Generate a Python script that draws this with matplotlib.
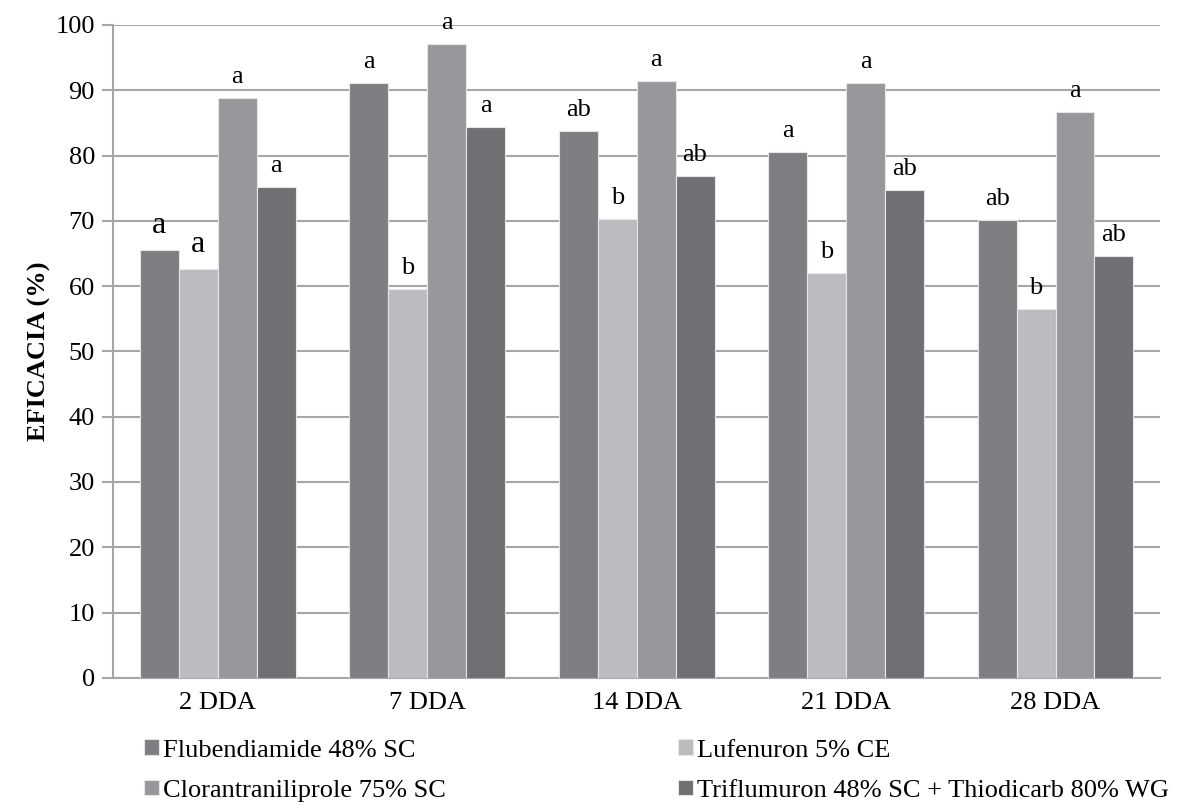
import numpy as np
import matplotlib.pyplot as plt

plt.rcParams['font.family'] = ['Liberation Serif', 'DejaVu Serif']

dias = ['2 DDA', '7 DDA', '14 DDA', '21 DDA', '28 DDA']
tratamientos = ['Flubendiamide 48% SC', 'Lufenuron 5% CE',
                'Clorantraniliprole 75% SC', 'Triflumuron 48% SC + Thiodicarb 80% WG']
flubendiamide = [65.5, 91.1, 83.8, 80.6, 70.1]
lufenuron = [62.6, 59.6, 70.3, 62.0, 56.5]
clorantraniliprole = [88.8, 97.1, 91.4, 91.1, 86.7]
triflumuron = [75.2, 84.4, 76.9, 74.7, 64.6]
letras = [['a', 'a', 'ab', 'a', 'ab'],
          ['a', 'b', 'b', 'b', 'b'],
          ['a', 'a', 'a', 'a', 'a'],
          ['a', 'a', 'ab', 'ab', 'ab']]
colores = ['#7e7f83', '#bbbcc0', '#97989c', '#6f7074']

series = [flubendiamide, lufenuron, clorantraniliprole, triflumuron]

fig = plt.figure(figsize=(11.82, 8.05), dpi=100)
ax = fig.add_axes([0.0956, 0.158, 0.886, 0.811])

x = np.arange(len(dias))
w = 0.186
barras = []
for i, vals in enumerate(series):
    pos = x + (i - 1.5) * w
    b = ax.bar(pos, vals, w, color=colores[i], edgecolor='#e6e6e6', linewidth=0.8,
               label=tratamientos[i], zorder=3)
    barras.append(b)
    for j, v in enumerate(vals):
        fs = 23 if j == 0 and i < 2 else 19
        ax.text(pos[j], v + 1.5, letras[i][j], ha='center', va='bottom',
                fontsize=fs, zorder=4)

ax.set_ylim(0, 100)
ax.set_xlim(-0.5, 4.5)
ax.set_yticks(np.arange(0, 101, 10))
ax.set_xticks(x)
ax.set_xticklabels(dias)
ax.yaxis.grid(True, color='#a6a6a6', linewidth=1.5, zorder=0)
ax.set_axisbelow(True)
for s in ['top', 'right']:
    ax.spines[s].set_visible(False)
ax.spines['left'].set_color('#a6a6a6')
ax.spines['bottom'].set_color('#a6a6a6')
ax.spines['left'].set_linewidth(1.5)
ax.spines['bottom'].set_linewidth(1.5)
ax.tick_params(axis='y', length=8, width=1.5, color='#a6a6a6', labelsize=19, pad=5)
ax.tick_params(axis='x', length=0, labelsize=19, pad=10)
ax.set_ylabel('EFICACIA (%)', fontsize=19, fontweight='bold', labelpad=3)

# orden por filas: Flu, Luf / Clor, Tri
orden = [0, 2, 1, 3]
ax.legend([barras[k] for k in orden], [tratamientos[k] for k in orden],
          loc='upper left', bbox_to_anchor=(0.02, -0.078), ncol=2, frameon=False,
          fontsize=19, handlelength=0.55, handleheight=0.55, handletextpad=0.15,
          columnspacing=8.8, labelspacing=0.68, borderaxespad=0)

fig.savefig('out.png', dpi=100)
